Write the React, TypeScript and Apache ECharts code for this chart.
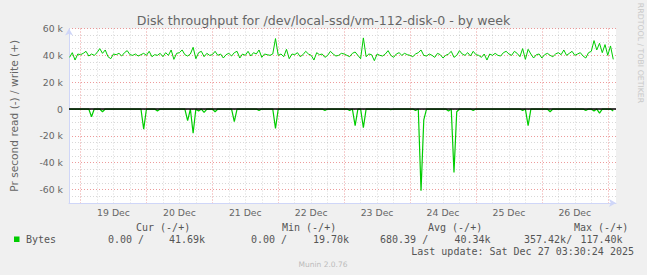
import React, { useEffect, useRef } from "react";
import * as echarts from "echarts";

// ---- data ----
const startHour = -4; // hours relative to 19 Dec 00:00, one value per hour
const writeK = [
  38.5, 42, 36.5, 41,
  40.5, 41.5, 43, 39.5, 41, 40, 42, 45, 41.5, 44, 39, 37.5, 41, 40.5, 41.5, 39.5, 42, 43.5, 40.5, 40, 41, 39.5, 40.5, 41.5,
  40, 43, 39, 40.5, 40, 41.5, 39, 42, 40, 44, 37, 41.5, 42, 44, 40.5, 39.5, 41, 46, 37.5, 42, 43, 39, 41.5, 40,
  40.5, 43, 40, 41, 38, 40.5, 41.5, 39.5, 42, 43, 38, 41, 40, 43, 39.5, 42, 41, 44, 38.5, 41, 40.5, 40, 41, 52.5,
  40, 41, 39, 44.5, 37.5, 41, 40.5, 42, 39, 40.5, 43, 41, 40, 36.5, 42, 40.5, 41, 38.5, 40, 43, 41, 39.5, 40, 41.5,
  41, 40, 39, 41.5, 42.5, 40, 37.5, 53, 39, 41, 40.5, 36, 41, 40, 39.5, 41, 43.5, 40, 38.5, 41, 42, 40, 41.5, 40.5,
  40, 39, 41, 42, 44, 40, 39.5, 41, 40, 38.5, 41.5, 40.5, 38, 40, 41, 43, 38.5, 40, 43.5, 41, 40, 42, 39.5, 43,
  40.5, 40, 38.5, 41, 36.5, 41, 40, 41.5, 40, 39.5, 42, 43, 41, 40, 43, 41.5, 39, 45, 37, 44.5, 41, 38, 40.5, 41,
  38, 40.5, 41.5, 40, 39, 41, 42, 40.5, 44, 40, 41.5, 43, 40, 41, 42, 39.5, 38, 42, 43, 51, 44, 49, 42, 48,
  40, 47, 37,
];
const readSpikeHours = [4, 8, 23, 28, 39, 41, 43, 45, 49, 56, 65, 71, 89, 98, 100, 103, 113, 122, 124, 125, 134, 136, 137, 143, 161, 163, 171, 184, 187, 189, 194];
const readSpikeK = [-5.7, -2, -15, -1.5, -8.7, -18, -1.5, -2.5, -2, -9.4, -1, -14.4, -1, -1, -12.4, -13.9, -0.5, -1, -60.9, -8, -1.5, -47.2, -2, -1, -1, -12.4, -2, -1, -1.5, -3, -1.5];

const xMin = -4.2;
const xMax = 195;
const dayLabels = ["19 Dec", "20 Dec", "21 Dec", "22 Dec", "23 Dec", "24 Dec", "25 Dec", "26 Dec"];
const dayNoonHours = [12, 36, 60, 84, 108, 132, 156, 180];
const gridHours = [0, 6, 12, 18, 24, 30, 36, 42, 48, 54, 60, 66, 72, 78, 84, 90, 96, 102, 108, 114, 120, 126, 132, 138, 144, 150, 156, 162, 168, 174, 180, 186, 192];
const yLabelValues = [-60000, -40000, -20000, 0, 20000, 40000, 60000];

const legendHeaders = ["Cur (-/+)", "Min (-/+)", "Avg (-/+)", "Max (-/+)"];
const legendValues = ["0.00 /", "41.69k", "0.00 /", "19.70k", "680.39 /", "40.34k", "357.42k/", "117.40k"];
const seriesName = "Bytes";
const lastUpdate = "Last update: Sat Dec 27 03:30:24 2025";
const footer = "Munin 2.0.76";
const watermark = "RRDTOOL / TOBI OETIKER";
const titleText = "Disk throughput for /dev/local-ssd/vm-112-disk-0 - by week";
const yName = "Pr second read (-) / write (+)";

export default function App() {
  const ref = useRef<HTMLDivElement>(null);
  useEffect(() => {
    if (!ref.current) return;
    const chart = echarts.init(ref.current, null, { renderer: "svg" });
    const writeData = writeK.map((v, i) => [startHour + i, v * 1000]);
    const readData = writeK.map((_, i) => {
      const h = startHour + i;
      const idx = readSpikeHours.indexOf(h);
      return [h, idx >= 0 ? readSpikeK[idx] * 1000 : 0];
    });
    const font = "DejaVu Sans";
    const mono = "DejaVu Sans Mono";
    const textCol = "#666";
    const legCol = "#555";
    const red = "rgba(222,72,72,0.55)";
    const grey = "rgba(143,143,143,0.35)";
    const headerX = [136, 282, 428, 574];
    const valueX = [108, 169, 251, 313, 380, 454.5, 524, 580.5];
    const graphic: any[] = [];
    legendHeaders.forEach((t, i) =>
      graphic.push({ type: "text", x: headerX[i], y: 227.5, style: { text: t, font: `10px "${mono}"`, fill: legCol, align: "left", verticalAlign: "middle", textAlign: "left", textVerticalAlign: "middle" } })
    );
    legendValues.forEach((t, i) =>
      graphic.push({ type: "text", x: valueX[i], y: 239.5, style: { text: t, font: `10px "${mono}"`, fill: legCol, align: "left", verticalAlign: "middle", textAlign: "left", textVerticalAlign: "middle" } })
    );
    graphic.push({ type: "rect", x: 14, y: 236.5, shape: { width: 5.5, height: 5.5 }, style: { fill: "#00cc00" } });
    graphic.push({ type: "text", x: 26, y: 239.5, style: { text: seriesName, font: `10px "${mono}"`, fill: legCol, align: "left", verticalAlign: "middle", textAlign: "left", textVerticalAlign: "middle" } });
    graphic.push({ type: "text", x: 634, y: 251.5, style: { text: lastUpdate, font: `10px "${mono}"`, fill: legCol, align: "right", verticalAlign: "middle", textAlign: "right", textVerticalAlign: "middle" } });
    graphic.push({ type: "text", x: 323, y: 264, style: { text: footer, font: `7.5px "${font}"`, fill: "#bbb", align: "center", verticalAlign: "middle", textAlign: "center", textVerticalAlign: "middle" } });
    graphic.push({ type: "text", x: 640, y: 53, rotation: -Math.PI / 2, style: { text: watermark, font: `7.8px "${font}"`, fill: "#c8c8c8", align: "center", verticalAlign: "middle", textAlign: "center", textVerticalAlign: "middle" } });

    chart.setOption({
      animation: false,
      backgroundColor: "#f0f0f0",
      title: {
        text: titleText,
        left: "center",
        top: 9,
        textStyle: { fontFamily: font, fontSize: 12.6, fontWeight: "normal", color: textCol },
      },
      grid: { left: 67, right: 31, top: 28.5, bottom: 72, show: true, backgroundColor: "#fff", borderWidth: 0 },
      xAxis: {
        type: "value",
        min: xMin,
        max: xMax,
        axisLine: { show: true, onZero: false, lineStyle: { color: "#CFD6F8", width: 1 }, symbol: ["none", "arrow"], symbolSize: [6, 7] },
        axisTick: { show: false, customValues: gridHours },
        axisLabel: {
          customValues: dayNoonHours,
          formatter: (v: number) => {
            const i = dayNoonHours.indexOf(Math.round(v));
            return i >= 0 ? dayLabels[i] : "";
          },
          color: textCol,
          fontFamily: font,
          fontSize: 9.3,
          margin: 5,
        },
        splitLine: { show: true, lineStyle: { color: [red, grey, grey, grey], type: [1, 2], width: 1 } },
      },
      yAxis: {
        type: "value",
        min: -70000,
        max: 60000,
        interval: 5000,
        name: yName,
        nameLocation: "middle",
        nameRotate: 90,
        nameGap: 50,
        nameTextStyle: { fontFamily: font, fontSize: 10.6, color: textCol },
        axisLine: { show: true, onZero: false, lineStyle: { color: "#CFD6F8", width: 1 }, symbol: ["none", "arrow"], symbolSize: [6, 7] },
        axisTick: { show: false },
        axisLabel: {
          customValues: yLabelValues,
          formatter: (v: number) => (v === 0 ? "0" : `${Math.round(v / 1000)} k`),
          color: textCol,
          fontFamily: font,
          fontSize: 9.3,
          margin: 6,
        },
        splitLine: { show: true, lineStyle: { color: [grey, grey, red, grey], type: [1, 2], width: 1 } },
      },
      series: [
        {
          type: "line",
          name: "write",
          data: writeData,
          showSymbol: false,
          lineStyle: { color: "#00cc00", width: 1 },
          itemStyle: { color: "#00cc00" },
          z: 3,
        },
        {
          type: "line",
          name: "read",
          data: readData,
          showSymbol: false,
          lineStyle: { color: "#00cc00", width: 1.2 },
          itemStyle: { color: "#00cc00" },
          z: 3,
        },
        {
          type: "line",
          name: "zero",
          data: [[xMin, 0], [xMax, 0]],
          showSymbol: false,
          silent: true,
          lineStyle: { color: "#000", width: 1.4 },
          itemStyle: { color: "#000" },
          z: 6,
        },
      ],
      graphic,
    });
    return () => chart.dispose();
  }, []);
  return <div ref={ref} style={{ position: "fixed", left: 0, top: 0, width: 647, height: 275 }} />;
}
